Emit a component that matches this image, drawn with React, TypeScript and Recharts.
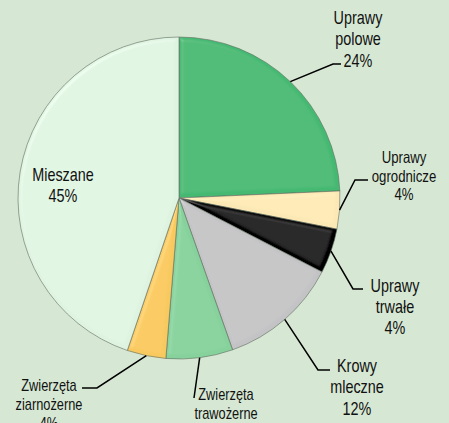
import React from 'react';
import { PieChart, Pie, Cell } from 'recharts';

const categories = ['Uprawy polowe', 'Uprawy ogrodnicze', 'Uprawy trwałe', 'Krowy mleczne', 'Zwierzęta trawożerne', 'Zwierzęta ziarnożerne', 'Mieszane'];
const labelLines = [
  ['Uprawy', 'polowe'],
  ['Uprawy', 'ogrodnicze'],
  ['Uprawy', 'trwałe'],
  ['Krowy', 'mleczne'],
  ['Zwierzęta', 'trawożerne'],
  ['Zwierzęta', 'ziarnożerne'],
  ['Mieszane'],
];
const values = [24.3, 3.8, 4.5, 12.0, 6.7, 3.9, 44.8];
const percentLabels = ['24%', '4%', '4%', '12%', '7%', '4%', '45%'];
const colors = ['#45b972', '#fbe8b4', '#000000', '#c3c3c5', '#86d19c', '#f8c95e', '#dff3e1'];

const data = categories.map((name, i) => ({ name, value: values[i] }));

// label layout (positions in px)
const layout = [
  { elbow: [333, 64], end: [341, 64], tx: 358, ty: 17, lh: 21.5, size: 18 },
  { elbow: [355, 180], end: [368, 180], tx: 404, ty: 157, lh: 18.5, size: 16.5 },
  { elbow: [353, 289], end: [363, 289], tx: 395, ty: 285, lh: 21, size: 18 },
  { elbow: [318, 370], end: [330, 370], tx: 357, ty: 365, lh: 21.5, size: 18 },
  { elbow: [194, 398], end: [194, 398], tx: 226, ty: 394, lh: 19, size: 16 },
  { elbow: [97, 388], end: [82, 388], tx: 49, ty: 385, lh: 19, size: 16 },
  { elbow: null, end: null, tx: 63, ty: 174, lh: 21, size: 18 },
];

const RAD = Math.PI / 180;
const FONT = '"Liberation Sans", Arial, sans-serif';
const SQUEEZE = 0.8;

const renderLabel = (props: any) => {
  const { cx, cy, midAngle, outerRadius, index } = props;
  const L = layout[index];
  const lines = [...labelLines[index], percentLabels[index]];
  const sx = cx + outerRadius * Math.cos(-midAngle * RAD);
  const sy = cy + outerRadius * Math.sin(-midAngle * RAD);
  return (
    <g key={`lbl-${index}`}>
      {L.elbow && (
        <polyline
          points={`${sx},${sy} ${L.elbow[0]},${L.elbow[1]} ${L.end![0]},${L.end![1]}`}
          fill="none"
          stroke="#000"
          strokeWidth={1.5}
        />
      )}
      {lines.map((t, k) => (
        <text
          key={k}
          x={0}
          y={0}
          transform={`translate(${L.tx},${L.ty + k * L.lh}) scale(${SQUEEZE},1)`}
          textAnchor="middle"
          dominantBaseline="central"
          fontFamily={FONT}
          fontSize={L.size}
          fill="#111"
        >
          {t}
        </text>
      ))}
    </g>
  );
};

export default function App() {
  return (
    <div style={{ position: 'absolute', left: 0, top: 0, width: 449, height: 423, background: '#d6e8d3', overflow: 'hidden' }}>
      <PieChart width={449} height={423} margin={{ top: 0, right: 0, bottom: 0, left: 0 }}>
        <defs>
          <filter id="bevel" x="-10%" y="-10%" width="120%" height="120%">
            <feGaussianBlur in="SourceAlpha" stdDeviation="2" result="blur" />
            <feSpecularLighting in="blur" surfaceScale="3" specularConstant="0.6" specularExponent="20" lightingColor="#ffffff" result="spec">
              <feDistantLight azimuth="225" elevation="45" />
            </feSpecularLighting>
            <feComposite in="spec" in2="SourceAlpha" operator="in" result="specIn" />
            <feComposite in="SourceGraphic" in2="specIn" operator="arithmetic" k1="0" k2="1" k3="0.18" k4="0" />
          </filter>
        </defs>
        <Pie
          data={data}
          dataKey="value"
          cx={179}
          cy={198}
          outerRadius={161}
          startAngle={90}
          endAngle={-270}
          stroke="#5f6b5f"
          strokeWidth={0.6}
          label={renderLabel}
          labelLine={false}
          isAnimationActive={false}
        >
          {data.map((d, i) => (
            <Cell key={d.name} fill={colors[i]} filter="url(#bevel)" />
          ))}
        </Pie>
      </PieChart>
    </div>
  );
}
